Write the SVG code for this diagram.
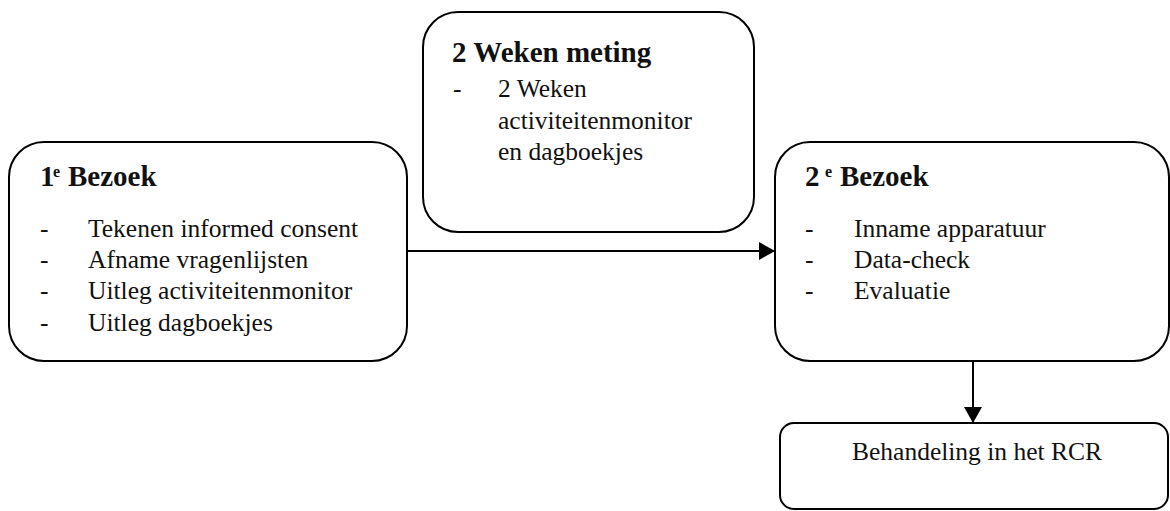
<svg xmlns="http://www.w3.org/2000/svg" width="1170" height="511" viewBox="0 0 1170 511">
<defs>
<style>
.box{fill:#fff;stroke:#000;stroke-width:2}
.h{font-family:"Liberation Serif","DejaVu Serif",serif;font-weight:bold;font-size:29px;fill:#111}
.sup{font-family:"Liberation Serif","DejaVu Serif",serif;font-weight:bold;font-size:16px;fill:#111}
.t{font-family:"Liberation Serif","DejaVu Serif",serif;font-size:25.5px;fill:#111}
.c{stroke:#000;stroke-width:2;fill:none}
</style>
<marker id="ah" markerWidth="17" markerHeight="18" refX="16" refY="9" orient="auto" markerUnits="userSpaceOnUse">
<path d="M0,0 L16,9 L0,18 Z" fill="#000"/>
</marker>
</defs>
<rect width="1170" height="511" fill="#fff"/>
<g id="connectors">
<line class="c" x1="407" y1="251" x2="775" y2="251" marker-end="url(#ah)"/>
<line class="c" x1="973" y1="362" x2="973" y2="423" marker-end="url(#ah)"/>
</g>
<g id="bezoek1">
<rect class="box" x="9" y="142" width="398" height="219" rx="35"/>
<text class="h" x="40" y="186">1</text><text class="sup" x="53" y="177">e</text><text class="h" x="68" y="186">Bezoek</text>
<text class="t" x="40" y="237">-</text><text class="t" x="88" y="237">Tekenen informed consent</text>
<text class="t" x="40" y="268">-</text><text class="t" x="88" y="268">Afname vragenlijsten</text>
<text class="t" x="40" y="299">-</text><text class="t" x="88" y="299">Uitleg activiteitenmonitor</text>
<text class="t" x="40" y="331">-</text><text class="t" x="88" y="331">Uitleg dagboekjes</text>
</g>
<g id="meting">
<rect class="box" x="423" y="12" width="331" height="220" rx="35"/>
<text class="h" x="452" y="62">2 Weken meting</text>
<text class="t" x="453" y="97">-</text><text class="t" x="498" y="97">2 Weken</text>
<text class="t" x="498" y="129">activiteitenmonitor</text>
<text class="t" x="498" y="160">en dagboekjes</text>
</g>
<g id="bezoek2">
<rect class="box" x="775" y="142" width="394" height="219" rx="35"/>
<text class="h" x="805" y="186">2</text><text class="sup" x="825" y="177">e</text><text class="h" x="840" y="186">Bezoek</text>
<text class="t" x="805" y="237">-</text><text class="t" x="854" y="237">Inname apparatuur</text>
<text class="t" x="805" y="268">-</text><text class="t" x="854" y="268">Data-check</text>
<text class="t" x="805" y="299">-</text><text class="t" x="854" y="299">Evaluatie</text>
</g>
<g id="behandeling">
<rect class="box" x="780" y="423" width="388" height="86" rx="14"/>
<text class="t" x="977" y="460" text-anchor="middle">Behandeling in het RCR</text>
</g>
</svg>
